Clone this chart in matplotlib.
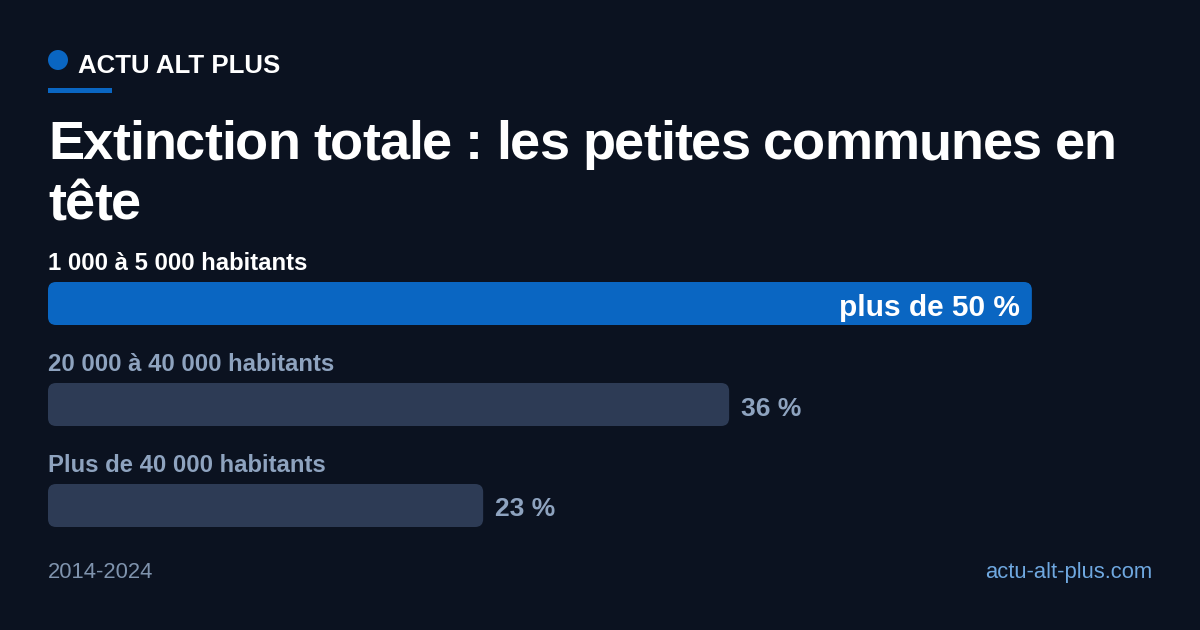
import matplotlib
matplotlib.use("Agg")
import matplotlib.pyplot as plt
from matplotlib.patches import FancyBboxPatch, Rectangle, Ellipse
from matplotlib.font_manager import FontProperties, findfont, get_font

plt.rcParams['font.family'] = ['Liberation Sans', 'DejaVu Sans']

# ---- data ----
categories = ["1 000 à 5 000 habitants", "20 000 à 40 000 habitants", "Plus de 40 000 habitants"]
values = [52, 36, 23]
value_labels = ["plus de 50 %", "36 %", "23 %"]
brand = "ACTU ALT PLUS"
title_lines = ["Extinction totale : les petites communes en", "tête"]
footer_left = "2014-2024"
footer_right = "actu-alt-plus.com"

BG = "#0b1220"
BLUE = "#0a66c2"
GREY_BAR = "#2d3b55"
GREY_TXT = "#8ea3bf"
W, H = 1200, 630
DPI = 100

fig = plt.figure(figsize=(12, 6.3), dpi=DPI, facecolor=BG)


def fx(px):
    return px / W


def fy(py):
    return 1 - py / H


def spaced_text(x_px, y_px, s, size, spacing_px, color):
    fp = FontProperties(family='Liberation Sans', weight='bold', size=size)
    font = get_font(findfont(fp))
    font.set_size(size, DPI)
    x = x_px
    prev = None
    for c in s:
        gi = font.get_char_index(ord(c))
        if prev is not None:
            try:
                k = font.get_kerning(prev, gi, 0)
            except Exception:
                k = 0
            x += k / 64.0
        if c != " ":
            fig.text(fx(x), fy(y_px), c, fontproperties=fp, color=color,
                     va='baseline', ha='left')
        g = font.load_char(ord(c))
        x += g.linearHoriAdvance / 65536.0 + spacing_px
        prev = gi


# header
fig.patches.append(Ellipse((fx(58), fy(60)), 20 / W, 20 / H, transform=fig.transFigure,
                           facecolor=BLUE, edgecolor='none'))
fig.text(fx(78), fy(73), brand, color="white", fontsize=18.6, fontweight='bold',
         va='baseline', ha='left')
fig.patches.append(Rectangle((fx(48), fy(93)), 64 / W, 5 / H, transform=fig.transFigure,
                             facecolor=BLUE, edgecolor='none'))

# title
spaced_text(48, 159, title_lines[0], 39, -1.05, "white")
spaced_text(48, 219, title_lines[1], 39, -1.05, "white")

# bars axes: pixel y 253..556, x 48..1152
ax = fig.add_axes([fx(48), fy(556), 1104 / W, 303 / H])
ax.set_facecolor(BG)
ax.patch.set_alpha(0)
for s in ax.spines.values():
    s.set_visible(False)
ax.set_xticks([])
ax.set_yticks([])
XMAX = 58.35
ax.set_xlim(0, XMAX)
ax.set_ylim(3, 0)

px_x = 1104 / XMAX
px_y = 101.0
bar_h = 43 / px_y
radius_px = 8
rs = radius_px / px_x
aspect = (radius_px / px_y) / rs

colors = [BLUE, GREY_BAR, GREY_BAR]
label_colors = ["white", GREY_TXT, GREY_TXT]
bars = ax.barh([0.5, 1.5, 2.5], values, height=bar_h, color='none')
for i, (b, v) in enumerate(zip(bars, values)):
    b.set_visible(False)
    x0, y0 = b.get_x(), b.get_y()
    w, h = b.get_width(), b.get_height()
    p = FancyBboxPatch((x0, y0), w, h,
                       boxstyle=f"round,pad=0,rounding_size={rs}",
                       mutation_aspect=aspect, facecolor=colors[i], edgecolor='none')
    ax.add_patch(p)
    yc = y0 + h / 2 + 1.5 / px_y
    ax.text(0, y0 - 12 / px_y, categories[i], color=label_colors[i], fontsize=17.2,
            fontweight='bold', va='baseline', ha='left')
    if i == 0:
        ax.text(v - 12 / px_x, yc, value_labels[i], color="white", fontsize=21.5,
                fontweight='bold', va='center_baseline', ha='right')
    else:
        ax.text(v + 12 / px_x, yc, value_labels[i], color=GREY_TXT, fontsize=19,
                fontweight='bold', va='center_baseline', ha='left')

# footer
fig.text(fx(48), fy(578), footer_left, color="#7f93ad", fontsize=15.8, va='baseline', ha='left')
fig.text(fx(1152), fy(578), footer_right, color="#6fa8e0", fontsize=15.8, va='baseline', ha='right')

fig.savefig("out.png", dpi=DPI, facecolor=BG)
